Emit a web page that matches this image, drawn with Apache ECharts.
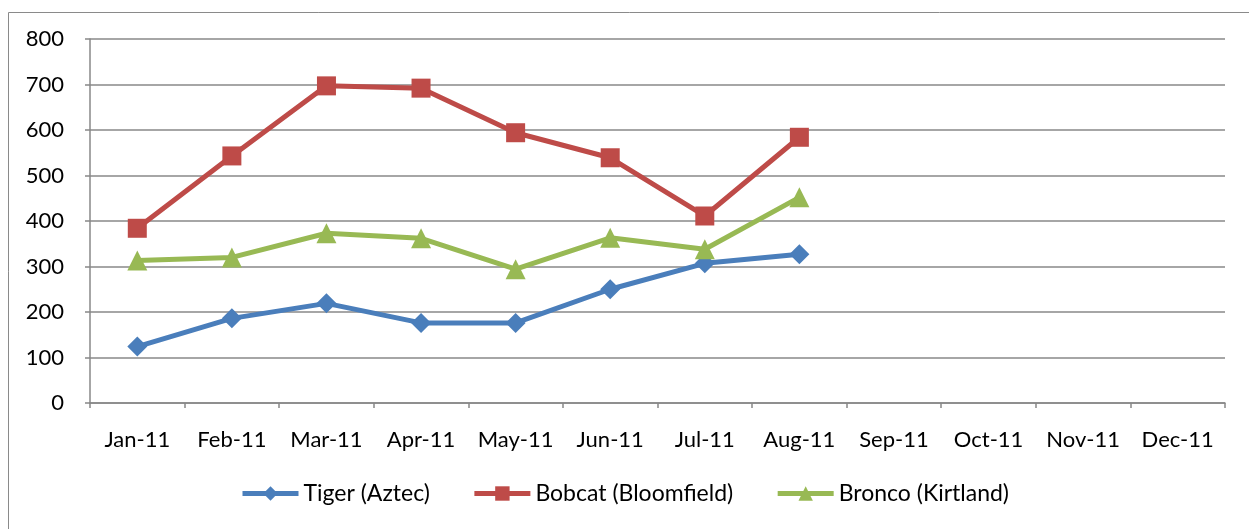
<!DOCTYPE html>
<html>
<head>
<meta charset="utf-8">
<script src="https://cdn.jsdelivr.net/npm/echarts@6/dist/echarts.min.js"></script>
<style>
html,body{margin:0;padding:0;background:#fff;}
#chart{width:1249px;height:529px;}
</style>
</head>
<body>
<div id="chart"></div>
<script>
const categories = ['Jan-11','Feb-11','Mar-11','Apr-11','May-11','Jun-11','Jul-11','Aug-11','Sep-11','Oct-11','Nov-11','Dec-11'];
const tiger = [124, 186, 219, 176, 176, 250, 307, 327];
const bobcat = [384, 543, 697, 692, 594, 539, 411, 584];
const bronco = [313, 320, 373, 362, 294, 363, 338, 452];
const seriesNames = ['Tiger (Aztec)', 'Bobcat (Bloomfield)', 'Bronco (Kirtland)'];

const chart = echarts.init(document.getElementById('chart'));
const font = 'Lato, "Noto Sans", sans-serif';
const gridColor = '#888888';

function mk(name, data, color, symbol, size){
  return {
    name: name, type: 'line', data: data,
    symbol: symbol, symbolSize: size,
    lineStyle: {color: color, width: 5},
    itemStyle: {color: color},
    emphasis: {disabled: true},
    animation: false, z: 3
  };
}

chart.setOption({
  animation: false,
  graphic: [{
    type: 'rect', shape: {x: 8.5, y: 12.5, width: 1300, height: 600},
    style: {fill: 'none', stroke: '#8a8a8a', lineWidth: 1}, silent: true, z: -1
  }],
  grid: {left: 90, right: 24, top: 39, bottom: 126, containLabel: false},
  legend: {
    data: seriesNames,
    bottom: 19, left: 'center',
    itemWidth: 56, itemHeight: 18, itemGap: 42,
    lineStyle: {width: 5},
    textStyle: {fontFamily: font, fontSize: 23, color: '#000'}
  },
  xAxis: {
    type: 'category', data: categories, boundaryGap: true,
    axisLine: {lineStyle: {color: gridColor, width: 1.5}},
    axisTick: {show: true, length: 5, inside: false, lineStyle: {color: gridColor, width: 1.5}},
    axisLabel: {fontFamily: font, fontSize: 22, color: '#000', margin: 26, interval: 0}
  },
  yAxis: {
    type: 'value', min: 0, max: 800, interval: 100,
    axisLine: {show: true, lineStyle: {color: gridColor, width: 1.5}},
    axisTick: {show: true, length: 5, lineStyle: {color: gridColor, width: 1.5}},
    splitLine: {show: true, lineStyle: {color: gridColor, width: 1.5}},
    axisLabel: {fontFamily: font, fontSize: 22, color: '#000', margin: 26}
  },
  series: [
    mk(seriesNames[0], tiger, '#4A7EBB', 'diamond', 20),
    mk(seriesNames[1], bobcat, '#BE4B48', 'rect', 19),
    mk(seriesNames[2], bronco, '#98B954', 'triangle', 20)
  ]
});
</script>
</body>
</html>
